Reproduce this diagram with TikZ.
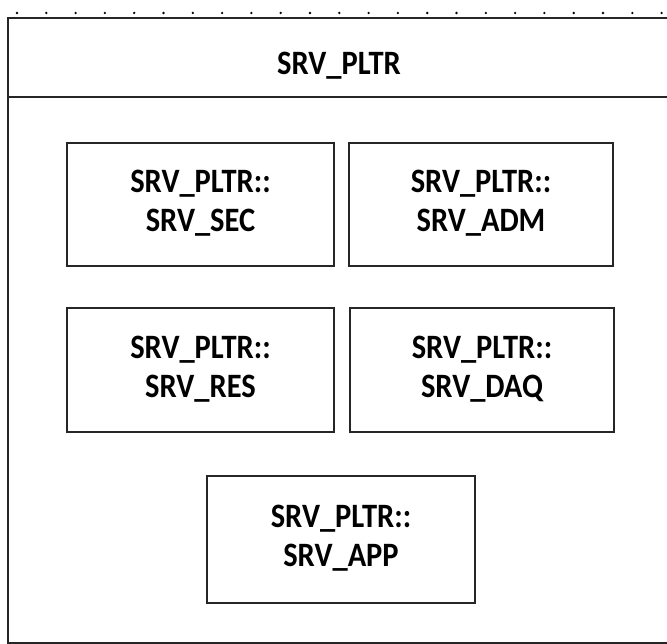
\documentclass[tikz,border=0pt]{standalone}
\usepackage{fontspec}
\usepackage{graphicx}
\setmainfont{Carlito}
\newcommand\twoline[2]{\raisebox{-4.5pt}{\begin{tabular}{@{}c@{}}\scalebox{1}[1.12]{#1}\\\scalebox{1}[1.12]{#2}\end{tabular}}}
\begin{document}
\begin{tikzpicture}[x=1pt,y=-1pt,
  frame/.style={draw=black!85, line width=1.3pt},
  inner/.style={draw=black!85, line width=1.3pt, minimum width=267pt, minimum height=123pt, align=center, inner sep=0pt,
     font=\fontsize{30.5}{39}\selectfont\bfseries},
  dotmark/.style={fill=black, circle, inner sep=0pt, minimum size=2.6pt}]
\useasboundingbox (0,0) rectangle (667,644);
\fill[white] (0,0) rectangle (667,644);
% dotted top
\foreach \i in {0,...,22} { \node[dotmark] (d\i) at ({17+29.3*\i},13) {}; }
% outer frame
\coordinate (tl) at (8,18);
\coordinate (tr) at (667,18);
\coordinate (bl) at (8,643);
\coordinate (br) at (667,643);
\coordinate (hl) at (8,97);
\coordinate (hr) at (667,97);
\draw[frame] (tr) -- (tl) -- (bl) -- (br);
\draw[frame] (hl) -- (hr);
\node[font=\fontsize{30.5}{39}\selectfont\bfseries, inner sep=0pt, anchor=base] (title) at (339,75) {\scalebox{1}[1.12]{SRV\_PLTR}};
\node[inner] (sec) at (200.5,204.5) {\twoline{SRV\_PLTR::}{SRV\_SEC}};
\node[inner, minimum width=264pt] (adm) at (481,204.5) {\twoline{SRV\_PLTR::}{SRV\_ADM}};
\node[inner, minimum height=124pt] (res) at (200.5,370) {\twoline{SRV\_PLTR::}{SRV\_RES}};
\node[inner, minimum width=264pt, minimum height=124pt] (daq) at (482,370) {\twoline{SRV\_PLTR::}{SRV\_DAQ}};
\node[inner, minimum width=268pt, minimum height=127pt] (app) at (341,539.5) {\twoline{SRV\_PLTR::}{SRV\_APP}};
\end{tikzpicture}
\end{document}
